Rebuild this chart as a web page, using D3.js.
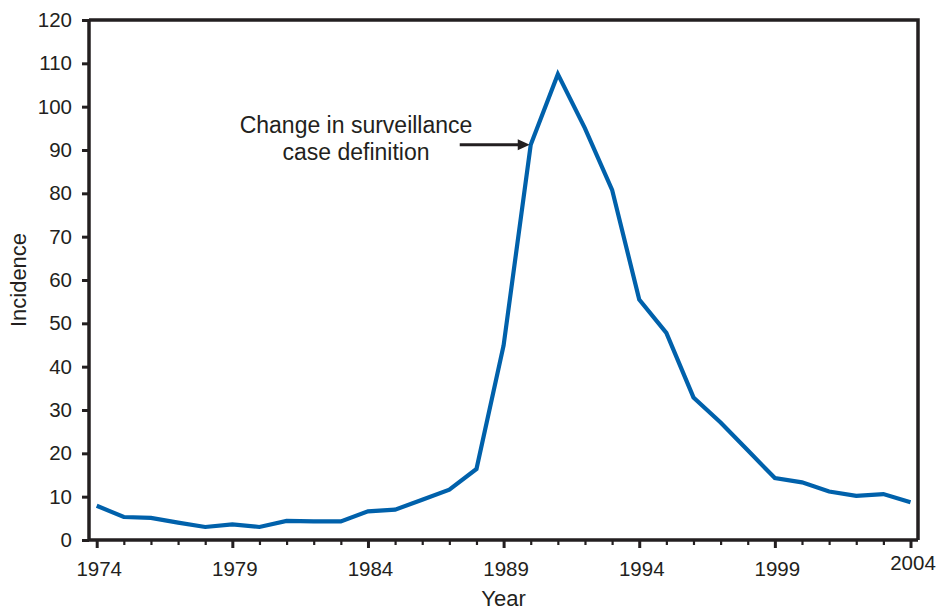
<!DOCTYPE html>
<html>
<head>
<meta charset="utf-8">
<script src="https://cdn.jsdelivr.net/npm/d3@7"></script>
<style>
  html, body { margin: 0; padding: 0; background: #fff; }
  svg { display: block; font-family: "Liberation Sans", Arial, Helvetica, sans-serif; }
</style>
</head>
<body>
<svg id="chart" width="937" height="612"></svg>
<script>
const years = [1974,1975,1976,1977,1978,1979,1980,1981,1982,1983,1984,1985,1986,1987,1988,1989,1990,1991,1992,1993,1994,1995,1996,1997,1998,1999,2000,2001,2002,2003,2004];
const incidence = [7.9,5.3,5.1,4.0,3.0,3.6,3.0,4.4,4.3,4.3,6.6,7.0,9.3,11.6,16.4,44.9,91.2,107.5,95.0,80.8,55.5,47.8,32.9,27.1,20.7,14.3,13.3,11.2,10.2,10.6,8.7];
const yTicks = [0,10,20,30,40,50,60,70,80,90,100,110,120];
const xMajorTicks = [1974,1979,1984,1989,1994,1999,2004];
const annotationLines = ["Change in surveillance", "case definition"];
const annotationYear = 1990;

(function () {
const svg = d3.select("#chart");
const mLeft = 89, mRight = 918, mTop = 20, mBottom = 540;
const axisColor = "#231f20";

const x = d3.scaleLinear().domain([1974, 2004]).range([96.7, 910.5]);
const y = d3.scaleLinear().domain([0, 120]).range([mBottom, mTop]);

// Frame (top and right)
svg.append("path")
  .attr("d", `M${mLeft},${mTop}H${mRight}V${mBottom}`)
  .attr("fill", "none").attr("stroke", axisColor).attr("stroke-width", 3.5);

// Y axis
const yAxis = svg.append("g").attr("transform", `translate(${mLeft},0)`)
  .call(d3.axisLeft(y).tickValues(yTicks).tickSize(7).tickPadding(10).tickFormat(d3.format("d")));
yAxis.select(".domain").attr("stroke", axisColor).attr("stroke-width", 3.5)
  .attr("d", `M0,${mTop}V${mBottom}`);
yAxis.selectAll(".tick line").attr("stroke", axisColor).attr("stroke-width", 3);
yAxis.selectAll(".tick text").attr("font-size", 20.5).attr("fill", axisColor)
  .attr("font-family", "'Liberation Sans', Arial, sans-serif");

// X axis minor ticks
const xAxisMinor = svg.append("g").attr("transform", `translate(0,${mBottom})`)
  .call(d3.axisBottom(x).tickValues(years.filter(v => !xMajorTicks.includes(v))).tickSize(5).tickFormat(""));
xAxisMinor.select(".domain").remove();
xAxisMinor.selectAll(".tick line").attr("stroke", axisColor).attr("stroke-width", 2.2);

// X axis major
const xAxis = svg.append("g").attr("transform", `translate(0,${mBottom})`)
  .call(d3.axisBottom(x).tickValues(xMajorTicks).tickSize(8).tickPadding(13).tickFormat(d3.format("d")));
xAxis.select(".domain").attr("stroke", axisColor).attr("stroke-width", 3.5)
  .attr("d", `M${mLeft},0H${mRight}`);
xAxis.selectAll(".tick line").attr("stroke", axisColor).attr("stroke-width", 3);
xAxis.selectAll(".tick text").attr("font-size", 20.5).attr("fill", axisColor)
  .attr("font-family", "'Liberation Sans', Arial, sans-serif")
  .attr("dx", 2)
  .attr("dy", d => d === 2004 ? "0.42em" : "0.71em");

// Axis titles
svg.append("text")
  .attr("x", (mLeft + mRight) / 2).attr("y", 606)
  .attr("text-anchor", "middle").attr("font-size", 22).attr("fill", axisColor)
  .text("Year");
svg.append("text")
  .attr("transform", `translate(26,${(mTop + mBottom) / 2}) rotate(-90)`)
  .attr("text-anchor", "middle").attr("font-size", 22).attr("fill", axisColor)
  .text("Incidence");

// Line
const line = d3.line().x((d, i) => x(years[i])).y(d => y(d));
svg.append("path")
  .datum(incidence)
  .attr("d", line)
  .attr("fill", "none")
  .attr("stroke", "#0061ab")
  .attr("stroke-width", 4.2)
  .attr("stroke-linejoin", "miter");

// Annotation
const ai = years.indexOf(annotationYear);
const tipX = x(annotationYear) - 1, tipY = y(incidence[ai]);
svg.append("line")
  .attr("x1", tipX - 70).attr("y1", tipY)
  .attr("x2", tipX - 10).attr("y2", tipY)
  .attr("stroke", axisColor).attr("stroke-width", 3);
svg.append("path")
  .attr("d", `M${tipX},${tipY}L${tipX - 12},${tipY - 5.5}L${tipX - 12},${tipY + 5.5}Z`)
  .attr("fill", axisColor);

const ann = svg.append("text")
  .attr("x", 356).attr("y", 133)
  .attr("text-anchor", "middle").attr("font-size", 23).attr("fill", axisColor);
annotationLines.forEach((t, i) => {
  ann.append("tspan").attr("x", 356).attr("dy", i === 0 ? 0 : 27).text(t);
});
})();
</script>
</body>
</html>
